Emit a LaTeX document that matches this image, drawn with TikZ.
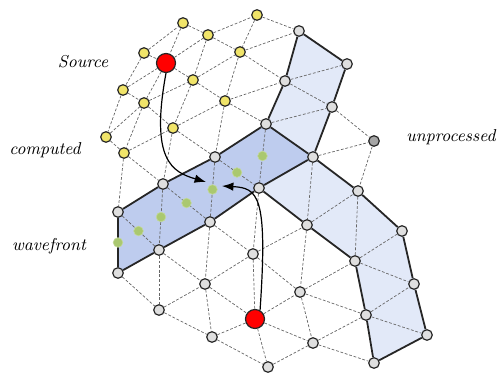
\documentclass[tikz,border=0pt]{standalone}
\usetikzlibrary{arrows.meta,backgrounds}
\definecolor{knownfill}{RGB}{240,228,105}
\definecolor{frontfill}{RGB}{170,200,112}
\definecolor{bandfill}{RGB}{190,204,238}
\definecolor{stripfill}{RGB}{226,233,248}
\begin{document}
\begin{tikzpicture}[x=0.5pt,y=-0.5pt,>=Latex]
  \tikzstyle{vtx}=[circle,draw=black!85,line width=0.6pt,inner sep=0pt,minimum size=5.3pt]
  \tikzstyle{known}=[vtx,fill=knownfill]
  \tikzstyle{far}=[vtx,fill=gray!25]
  \tikzstyle{todo}=[vtx,fill=gray!70]
  \tikzstyle{seed}=[vtx,fill=red,minimum size=9.5pt]
  \tikzstyle{front}=[circle,fill=frontfill,draw=frontfill!70!white,line width=0.3pt,inner sep=0pt,minimum size=4.8pt]
  \tikzstyle{mesh}=[gray!80!black,line width=0.35pt,dash pattern=on 1.4pt off 0.9pt]
  \tikzstyle{rim}=[black!85,line width=0.9pt]
  \tikzstyle{lbl}=[font=\fontsize{8.6}{10}\selectfont\itshape]
  \useasboundingbox (0,0) rectangle (498,375);
  \node[known] (v00) at (144,53) {};
  \node[known] (v01) at (123,90) {};
  \node[known] (v02) at (106,137) {};
  \node[known] (v10) at (183,23) {};
  \node[seed]  (v11) at (166,63) {};
  \node[known] (v12) at (144,103) {};
  \node[known] (v13) at (124,153) {};
  \node[far]   (v14) at (118,212) {};
  \node[far]   (v15) at (118,273) {};
  \node[known] (v21) at (208,35) {};
  \node[known] (v22) at (193,80) {};
  \node[known] (v23) at (173,128) {};
  \node[far]   (v24) at (163,184) {};
  \node[far]   (v25) at (159,250) {};
  \node[far]   (v26) at (159,310) {};
  \node[known] (v31) at (257,15) {};
  \node[known] (v32) at (240,52) {};
  \node[known] (v33) at (225,101) {};
  \node[far]   (v34) at (215,157) {};
  \node[far]   (v35) at (210,222) {};
  \node[far]   (v36) at (205,284) {};
  \node[far]   (v37) at (212,337) {};
  \node[far]   (v42) at (299,31) {};
  \node[far]   (v43) at (285,81) {};
  \node[far]   (v44) at (266,124) {};
  \node[far]   (v45) at (259,188) {};
  \node[far]   (v46) at (253,254) {};
  \node[seed]  (v47) at (255,319) {};
  \node[far]   (v48) at (268,367) {};
  \node[far]   (v53) at (347,64) {};
  \node[far]   (v54) at (332,107) {};
  \node[far]   (v55) at (313,157) {};
  \node[far]   (v56) at (307,225) {};
  \node[far]   (v57) at (300,292) {};
  \node[far]   (v58) at (313,343) {};
  \node[todo]  (v65) at (374,141) {};
  \node[far]   (v66) at (358,191) {};
  \node[far]   (v67) at (355,261) {};
  \node[far]   (v68) at (366,315) {};
  \node[far]   (v69) at (374,363) {};
  \node[far]   (v77) at (402,231) {};
  \node[far]   (v78) at (414,284) {};
  \node[far]   (v79) at (427,335) {};
  \begin{scope}[on background layer]
    \fill[bandfill] (v14.center) -- (v24.center) -- (v34.center) -- (v44.center) -- (v55.center)
      -- (v45.center) -- (v35.center) -- (v25.center) -- (v15.center) -- cycle;
    \fill[stripfill] (v44.center) -- (v43.center) -- (v42.center) -- (v53.center) -- (v54.center) -- (v55.center) -- cycle;
    \fill[stripfill] (v45.center) -- (v55.center) -- (v66.center) -- (v77.center) -- (v78.center) -- (v79.center)
      -- (v69.center) -- (v68.center) -- (v67.center) -- (v56.center) -- cycle;
    \foreach \a/\b in {v00/v10,v01/v11,v11/v21,v21/v31,v02/v12,v12/v22,v22/v32,v32/v42,
        v13/v23,v23/v33,v33/v43,v43/v53,v44/v54,v55/v65,v26/v36,v36/v46,v46/v56,v56/v66,
        v37/v47,v47/v57,v57/v67,v67/v77,v48/v58,v58/v68,v68/v78}
      \draw[mesh] (\a) -- (\b);
    \foreach \a/\b in {v00/v01,v01/v02,v10/v11,v11/v12,v12/v13,v13/v14,v21/v22,v22/v23,
        v23/v24,v24/v25,v25/v26,v31/v32,v32/v33,v33/v34,v34/v35,v35/v36,v36/v37,v44/v45,
        v45/v46,v46/v47,v47/v48,v55/v56,v56/v57,v57/v58,v65/v66,v66/v67}
      \draw[mesh] (\a) -- (\b);
    \foreach \a/\b in {v00/v11,v01/v12,v02/v13,v10/v21,v11/v22,v12/v23,v13/v24,v14/v25,
        v15/v26,v21/v32,v22/v33,v23/v34,v24/v35,v25/v36,v26/v37,v31/v42,v32/v43,v33/v44,
        v34/v45,v35/v46,v36/v47,v37/v48,v43/v54,v46/v57,v47/v58,v54/v65,v57/v68,v58/v69,
        v67/v78,v68/v79}
      \draw[mesh] (\a) -- (\b);
    \draw[rim] (v14) -- (v24) -- (v34) -- (v44) -- (v55);
    \draw[rim] (v14) -- (v15) -- (v25) -- (v35) -- (v45) -- (v55);
    \draw[rim] (v44) -- (v43) -- (v42) -- (v53) -- (v54) -- (v55) -- (v66) -- (v77) -- (v78)
      -- (v79) -- (v69) -- (v68) -- (v67) -- (v56) -- (v45);
  \end{scope}
  \path (v14) -- node[front] (f1) {} (v15);
  \path (v14) -- node[front] (f2) {} (v25);
  \path (v24) -- node[front] (f3) {} (v25);
  \path (v24) -- node[front] (f4) {} (v35);
  \path (v34) -- node[front] (f5) {} (v35);
  \path (v34) -- node[front] (f6) {} (v45);
  \path (v44) -- node[front] (f7) {} (v45);
  \coordinate (hit1) at (206,182);
  \coordinate (hit2) at (222,186);
  \draw[->,line width=0.6pt] (v11.south) .. controls (150,160) and (172,172) .. (hit1);
  \draw[->,line width=0.6pt] (v47.60) .. controls (268,195) and (258,188) .. (hit2);
  \node[lbl] (source) at (83,62) {Source};
  \node[lbl] (computed) at (45,150) {computed};
  \node[lbl] (wavefront) at (49,246) {wavefront};
  \node[lbl] (unprocessed) at (451,137) {unprocessed};
\end{tikzpicture}
\end{document}
